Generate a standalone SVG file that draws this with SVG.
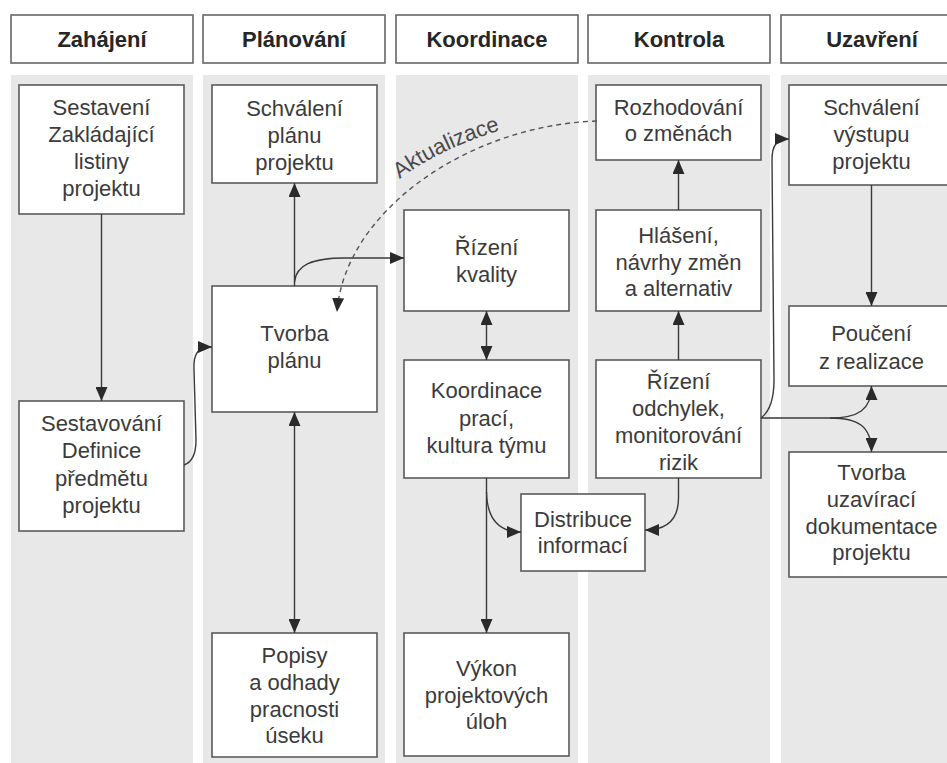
<svg xmlns="http://www.w3.org/2000/svg" width="947" height="763" viewBox="0 0 947 763">
  <style>
    .lane { fill: #e8e8e8; }
    .hdr rect { fill: #ffffff; stroke: #666666; stroke-width: 1.6; }
    .hdr text { font-family: "Liberation Sans", Arial, sans-serif; font-size: 22px; font-weight: bold; fill: #262626; text-anchor: middle; }
    .node rect { fill: #ffffff; stroke: #5a5a5a; stroke-width: 1.6; }
    .node text { font-family: "Liberation Sans", Arial, sans-serif; font-size: 22px; fill: #3b3b3b; text-anchor: middle; }
    .edge { fill: none; stroke: #3a3a3a; stroke-width: 1.4; }
    .dash { stroke-dasharray: 5 4; stroke: #555555; }
    .lbl { font-family: "Liberation Sans", Arial, sans-serif; font-size: 22px; fill: #4a4a4a; }
  </style>
  <defs>
    <marker id="arr" viewBox="0 0 14 12" refX="14" refY="6" markerWidth="14" markerHeight="12" markerUnits="userSpaceOnUse" orient="auto-start-reverse">
      <path d="M0,0 L14,6 L0,12 z" fill="#2a2a2a"/>
    </marker>
    <path id="updPath" d="M395,183 Q440,145 530,122"/>
  </defs>

  <rect width="947" height="763" fill="#ffffff"/>

  <!-- swimlane backgrounds -->
  <g id="lanes">
    <rect class="lane" x="11" y="75" width="182" height="688"/>
    <rect class="lane" x="203" y="75" width="182" height="688"/>
    <rect class="lane" x="396" y="75" width="182" height="688"/>
    <rect class="lane" x="588" y="75" width="182" height="688"/>
    <rect class="lane" x="781" y="75" width="182" height="688"/>
  </g>

  <!-- phase headers -->
  <g id="hdr-zahajeni" class="hdr"><rect x="11" y="15" width="182" height="48"/><text x="102" y="47">Zahájení</text></g>
  <g id="hdr-planovani" class="hdr"><rect x="203" y="15" width="182" height="48"/><text x="294" y="47">Plánování</text></g>
  <g id="hdr-koordinace" class="hdr"><rect x="396" y="15" width="182" height="48"/><text x="487" y="47">Koordinace</text></g>
  <g id="hdr-kontrola" class="hdr"><rect x="588" y="15" width="182" height="48"/><text x="679" y="47">Kontrola</text></g>
  <g id="hdr-uzavreni" class="hdr"><rect x="781" y="15" width="182" height="48"/><text x="872" y="47">Uzavření</text></g>

  <!-- Zahájení -->
  <g id="n-sestaveni" class="node">
    <rect x="19" y="85" width="165" height="129"/>
    <text x="101.5" y="115">Sestavení</text>
    <text x="101.5" y="142">Zakládající</text>
    <text x="101.5" y="169">listiny</text>
    <text x="101.5" y="196">projektu</text>
  </g>
  <g id="n-definice" class="node">
    <rect x="19" y="401" width="165" height="130"/>
    <text x="101.5" y="431">Sestavování</text>
    <text x="101.5" y="458">Definice</text>
    <text x="101.5" y="486">předmětu</text>
    <text x="101.5" y="513">projektu</text>
  </g>

  <!-- Plánování -->
  <g id="n-schvaleni-planu" class="node">
    <rect x="212" y="85" width="165" height="98"/>
    <text x="294.5" y="116">Schválení</text>
    <text x="294.5" y="143">plánu</text>
    <text x="294.5" y="170">projektu</text>
  </g>
  <g id="n-tvorba-planu" class="node">
    <rect x="212" y="286" width="165" height="126"/>
    <text x="294.5" y="341">Tvorba</text>
    <text x="294.5" y="368">plánu</text>
  </g>
  <g id="n-popisy" class="node">
    <rect x="212" y="633" width="165" height="124"/>
    <text x="294.5" y="663">Popisy</text>
    <text x="294.5" y="690">a odhady</text>
    <text x="294.5" y="717">pracnosti</text>
    <text x="294.5" y="743">úseku</text>
  </g>

  <!-- Koordinace -->
  <g id="n-kvalita" class="node">
    <rect x="404" y="210" width="165" height="101"/>
    <text x="486.5" y="255">Řízení</text>
    <text x="486.5" y="282">kvality</text>
  </g>
  <g id="n-koordinace-praci" class="node">
    <rect x="404" y="360" width="165" height="118"/>
    <text x="486.5" y="398">Koordinace</text>
    <text x="486.5" y="426">prací,</text>
    <text x="486.5" y="453">kultura týmu</text>
  </g>
  <g id="n-vykon" class="node">
    <rect x="404" y="633" width="165" height="123"/>
    <text x="486.5" y="676">Výkon</text>
    <text x="486.5" y="703">projektových</text>
    <text x="486.5" y="729">úloh</text>
  </g>
  <g id="n-distribuce" class="node">
    <rect x="521" y="494" width="124" height="77"/>
    <text x="583" y="527">Distribuce</text>
    <text x="583" y="553">informací</text>
  </g>

  <!-- Kontrola -->
  <g id="n-rozhodovani" class="node">
    <rect x="596" y="85" width="165" height="75"/>
    <text x="678.5" y="115">Rozhodování</text>
    <text x="678.5" y="141">o změnách</text>
  </g>
  <g id="n-hlaseni" class="node">
    <rect x="596" y="210" width="165" height="101"/>
    <text x="678.5" y="243">Hlášení,</text>
    <text x="678.5" y="270">návrhy změn</text>
    <text x="678.5" y="296">a alternativ</text>
  </g>
  <g id="n-odchylky" class="node">
    <rect x="596" y="360" width="165" height="118"/>
    <text x="678.5" y="389">Řízení</text>
    <text x="678.5" y="416">odchylek,</text>
    <text x="678.5" y="443">monitorování</text>
    <text x="678.5" y="470">rizik</text>
  </g>

  <!-- Uzavření -->
  <g id="n-schvaleni-vystupu" class="node">
    <rect x="789" y="85" width="165" height="100"/>
    <text x="871.5" y="115">Schválení</text>
    <text x="871.5" y="142">výstupu</text>
    <text x="871.5" y="169">projektu</text>
  </g>
  <g id="n-pouceni" class="node">
    <rect x="789" y="306" width="165" height="80"/>
    <text x="871.5" y="341">Poučení</text>
    <text x="871.5" y="369">z realizace</text>
  </g>
  <g id="n-uzaviraci" class="node">
    <rect x="789" y="452" width="165" height="125"/>
    <text x="871.5" y="480">Tvorba</text>
    <text x="871.5" y="507">uzavírací</text>
    <text x="871.5" y="534">dokumentace</text>
    <text x="871.5" y="560">projektu</text>
  </g>

  <!-- connectors, drawn over the boxes so the update arrow shows inside "Tvorba plánu" -->
  <g id="connectors">
    <path class="edge" d="M101.5,214 V401" marker-end="url(#arr)"/>
    <path class="edge" d="M184,465 C193,462 196,452 196,440 L194,370 C193,352 199,347 212,347" marker-end="url(#arr)"/>
    <path class="edge" d="M294.5,286 V183" marker-end="url(#arr)"/>
    <path class="edge" d="M294.5,412 V633" marker-start="url(#arr)" marker-end="url(#arr)"/>
    <path class="edge" d="M294.5,282 C296,265 312,258 345,258 H404" marker-end="url(#arr)"/>
    <path class="edge" d="M486.5,311 V360" marker-start="url(#arr)" marker-end="url(#arr)"/>
    <path class="edge" d="M486.5,478 V633" marker-end="url(#arr)"/>
    <path class="edge" d="M486.5,492 C487,518 498,532 521,532" marker-end="url(#arr)"/>
    <path class="edge" d="M678.5,478 V498 C678.5,518 668,530 645,530" marker-end="url(#arr)"/>
    <path class="edge" d="M678.5,360 V311" marker-end="url(#arr)"/>
    <path class="edge" d="M678.5,210 V160" marker-end="url(#arr)"/>
    <path class="edge" d="M761,418 C769,412 774,400 774,380 L772,160 C772,146 776,139 789,139" marker-end="url(#arr)"/>
    <path class="edge" d="M761,418 H830 C858,418 871.5,410 871.5,386" marker-end="url(#arr)"/>
    <path class="edge" d="M830,418 C858,418 871.5,426 871.5,452" marker-end="url(#arr)"/>
    <path class="edge" d="M871.5,185 V306" marker-end="url(#arr)"/>
    <path class="edge dash" d="M597,121 C470,125 345,210 337,312" marker-end="url(#arr)"/>
    <text class="lbl"><textPath href="#updPath" startOffset="6">Aktualizace</textPath></text>
  </g>
</svg>
